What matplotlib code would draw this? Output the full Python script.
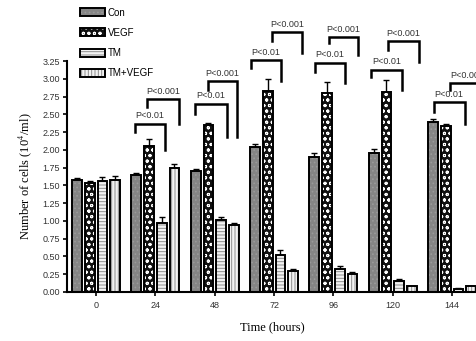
import numpy as np
import matplotlib
matplotlib.use('Agg')
import matplotlib.pyplot as plt

# data
times = ['0', '24', '48', '72', '96', '120', '144']
groups = ['Con', 'VEGF', 'TM', 'TM+VEGF']
con = [1.57, 1.65, 1.70, 2.04, 1.90, 1.95, 2.40]
con_err = [0.04, 0.02, 0.03, 0.05, 0.05, 0.06, 0.03]
vegf = [1.54, 2.06, 2.35, 2.83, 2.80, 2.82, 2.34]
vegf_err = [0.02, 0.10, 0.03, 0.17, 0.16, 0.16, 0.02]
tm = [1.56, 0.97, 1.01, 0.52, 0.32, 0.16, 0.04]
tm_err = [0.06, 0.08, 0.05, 0.07, 0.05, 0.02, 0.01]
tmv = [1.58, 1.75, 0.95, 0.30, 0.26, 0.08, 0.08]
tmv_err = [0.06, 0.05, 0.02, 0.02, 0.02, 0.01, 0.01]

# significance brackets: left x, right x, top y, left leg end, right leg end, label
br_left = [0.66, 0.86, 1.67, 1.88, 2.61, 2.97, 3.69, 3.92, 4.63, 4.92, 5.69, 5.96]
br_right = [1.16, 1.39, 2.20, 2.37, 3.12, 3.47, 4.20, 4.41, 5.16, 5.44, 6.21, 6.55]
br_top = [2.37, 2.71, 2.65, 2.97, 3.26, 3.66, 3.23, 3.59, 3.13, 3.53, 2.67, 2.94]
br_lbot = [2.25, 2.61, 2.51, 2.84, 3.15, 3.53, 3.10, 3.50, 3.02, 3.41, 2.54, 2.84]
br_rbot = [2.00, 2.37, 2.18, 2.18, 2.97, 3.37, 2.94, 3.33, 2.84, 3.24, 2.37, 2.60]
br_text = ['P<0.01', 'P<0.001'] * 6

plt.rcParams['hatch.linewidth'] = 0.7
plt.rcParams['mathtext.fontset'] = 'stix'

fig = plt.figure(figsize=(4.77, 3.41), dpi=100)
ax = fig.add_axes([0.1405, 0.1437, 0.8595, 0.677])

x = np.arange(len(times))
step = 0.214
w = 0.165
series = [con, vegf, tm, tmv]
errs = [con_err, vegf_err, tm_err, tmv_err]
faces = ['#858585', '#111111', '#f2f2f2', '#f2f2f2']
hatches = ['....', 'ooo', '-----', '|||||']
hcols = ['#9a9a9a', 'white', '#8c8c8c', '#8c8c8c']

handles = []
for k in range(4):
    pos = x + (k - 1.5) * step
    ax.bar(pos, series[k], w, color=faces[k], hatch=hatches[k],
           edgecolor=hcols[k], linewidth=0, zorder=2)
    ax.bar(pos, series[k], w, facecolor='none', edgecolor='black',
           linewidth=1.4, zorder=3)
    ax.errorbar(pos, series[k], yerr=[np.zeros(len(times)), errs[k]],
                fmt='none', ecolor='black', elinewidth=1, capsize=2.5,
                capthick=1, zorder=1)
    h = plt.Rectangle((0, 0), 1, 1, facecolor=faces[k], hatch=hatches[k],
                      edgecolor=hcols[k], linewidth=0)
    h2 = plt.Rectangle((0, 0), 1, 1, facecolor='none', edgecolor='black',
                       linewidth=1.4)
    handles.append((h, h2))

for i in range(len(br_left)):
    ax.plot([br_left[i], br_left[i], br_right[i], br_right[i]],
            [br_lbot[i], br_top[i], br_top[i], br_rbot[i]],
            color='black', lw=1.8, clip_on=False, solid_joinstyle='miter')
    ax.annotate(br_text[i], ((br_left[i] + br_right[i]) / 2, br_top[i]),
                xytext=(0, 2.5), textcoords='offset points', ha='center',
                va='bottom', fontsize=6.5, color='#333333',
                family='Liberation Sans', annotation_clip=False)

ax.set_xlim(-0.49, 6.42)
ax.set_ylim(0, 3.25)
ax.set_yticks(np.arange(0, 3.26, 0.25))
ax.set_yticklabels(['%.2f' % v for v in np.arange(0, 3.26, 0.25)])
ax.set_xticks(x)
ax.set_xticklabels(times)
for s in ['top', 'right']:
    ax.spines[s].set_visible(False)
for s in ['left', 'bottom']:
    ax.spines[s].set_linewidth(1.5)
ax.tick_params(axis='both', direction='out', length=3, width=1.2,
               labelsize=6.5, pad=2)
for lab in ax.get_xticklabels() + ax.get_yticklabels():
    lab.set_family('Liberation Sans')
    lab.set_color('#333333')
for lab in ax.get_xticklabels():
    lab.set_y(-0.008)

ax.set_xlabel('Time (hours)', family='Liberation Serif', fontsize=9, labelpad=8)
ax.set_ylabel(r'Number of cells (10$^{4}$/ml)', family='Liberation Serif',
              fontsize=9, labelpad=6)

fig.legend(handles, groups, loc='upper left', bbox_to_anchor=(0.155, 0.995),
           frameon=False, handlelength=2.6, handleheight=0.9,
           labelspacing=1.05, handletextpad=0.3, borderaxespad=0.2,
           prop={'family': 'Liberation Sans', 'size': 7})

fig.savefig('out.png', dpi=100)
